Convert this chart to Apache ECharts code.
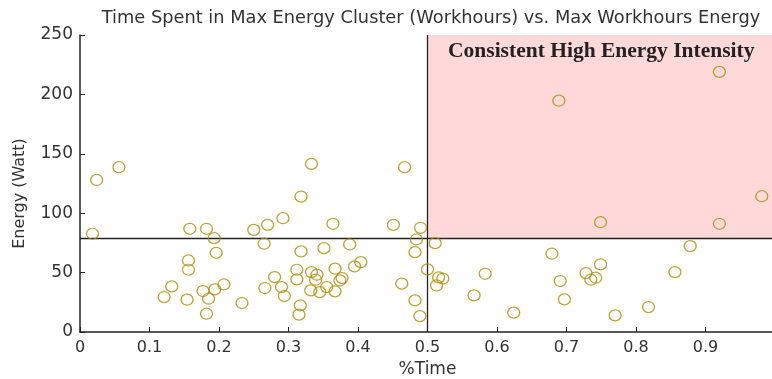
<!DOCTYPE html>
<html>
<head>
<meta charset="utf-8">
<script src="https://cdn.jsdelivr.net/npm/echarts@6/dist/echarts.min.js"></script>
<style>html,body{margin:0;padding:0;background:#fff;}#c{width:772px;height:379px;}</style>
</head>
<body>
<div id="c"></div>
<script>
const timeShare = [
  0.018, 0.024, 0.056, 0.333, 0.318,
  0.158, 0.182, 0.193, 0.196, 0.156, 0.156, 0.121, 0.132, 0.154, 0.177, 0.185, 0.194, 0.207, 0.182, 0.233,
  0.25, 0.27, 0.292, 0.265, 0.266, 0.28, 0.29, 0.294, 0.312, 0.312, 0.318, 0.317, 0.315,
  0.333, 0.341, 0.339, 0.332, 0.345, 0.351, 0.364, 0.367, 0.355, 0.367, 0.374, 0.377, 0.388, 0.395, 0.404,
  0.451, 0.467, 0.49, 0.484, 0.482, 0.511, 0.5, 0.463, 0.482, 0.489, 0.516, 0.522, 0.513,
  0.567, 0.583, 0.624, 0.679, 0.691, 0.697, 0.728, 0.735, 0.742, 0.749, 0.77, 0.818, 0.856, 0.878,
  0.689, 0.92, 0.981, 0.749, 0.92
];
const energyWatt = [
  82.7, 128, 138.7, 141.5, 114,
  86.9, 86.9, 79, 66.7, 60.2, 52.4, 29.4, 38.4, 27.2, 34.5, 28, 35.9, 40, 15.4, 24.4,
  86, 90.2, 95.8, 74.3, 37, 46.2, 37.8, 30.3, 52.4, 44.3, 67.8, 22.4, 14.6,
  50.4, 48.2, 44, 35, 33.6, 70.6, 91.1, 53.3, 37.8, 34.2, 43.4, 45.4, 73.7, 55.2, 58.8,
  90.2, 138.7, 87.7, 77.9, 67.2, 74.8, 52.7, 40.7, 26.6, 13.4, 46, 45, 39.2,
  30.8, 49, 16.3, 65.9, 42.9, 27.5, 49.6, 44, 45.7, 56.9, 14, 21, 50.4, 72.3,
  194.7, 219, 114.3, 92.4, 91.1
];
const xTicks = [0, 0.1, 0.2, 0.3, 0.4, 0.5, 0.6, 0.7, 0.8, 0.9];
const yTicks = [0, 50, 100, 150, 200, 250];
const timeThreshold = 0.5;
const energyThreshold = 79;
const titleText = 'Time Spent in Max Energy Cluster (Workhours) vs. Max Workhours Energy';
const regionLabel = 'Consistent High Energy Intensity';

const points = timeShare.map((t, i) => [t, energyWatt[i]]);

const chart = echarts.init(document.getElementById('c'), null, {renderer: 'canvas'});
chart.setOption({
  animation: false,
  backgroundColor: '#ffffff',
  title: {
    text: titleText,
    left: 426, top: 4, textAlign: 'center',
    textStyle: {fontFamily: 'DejaVu Sans', fontSize: 17.8, fontWeight: 'normal', color: '#333'}
  },
  grid: {left: 80, top: 35, width: 695, height: 297, containLabel: false, outerBoundsMode: 'none'},
  xAxis: {
    type: 'value', min: 0, max: 1, interval: 0.1,
    name: '%Time', nameLocation: 'middle', nameGap: 29,
    nameTextStyle: {fontFamily: 'DejaVu Sans', fontSize: 17, color: '#333'},
    axisLine: {show: true, lineStyle: {color: '#222', width: 1.5}},
    axisTick: {show: true, inside: true, length: 5, lineStyle: {color: '#222'}},
    axisLabel: {
      fontFamily: 'DejaVu Sans', fontSize: 16, color: '#333', margin: 8,
      formatter: v => (xTicks.some(t => Math.abs(t - v) < 1e-9) ? String(Math.round(v * 10) / 10) : '')
    },
    splitLine: {show: false}
  },
  yAxis: {
    type: 'value', min: 0, max: 250, interval: 50,
    name: 'Energy (Watt)', nameLocation: 'middle', nameGap: 52,
    nameTextStyle: {fontFamily: 'DejaVu Sans', fontSize: 16, color: '#333', padding: [0, 20, 0, 0]},
    axisLine: {show: true, lineStyle: {color: '#222', width: 1.5}},
    axisTick: {show: true, inside: true, length: 5, lineStyle: {color: '#222'}},
    axisLabel: {
      fontFamily: 'DejaVu Sans', fontSize: 17, color: '#333', margin: 7,
      formatter: v => (yTicks.includes(v) ? String(v) : '')
    },
    splitLine: {show: false}
  },
  series: [{
    type: 'scatter',
    data: points,
    symbol: 'path://M0,5a5,5 0 1,0 10,0a5,5 0 1,0 -10,0',
    symbolSize: [12, 11],
    symbolKeepAspect: false,
    itemStyle: {color: 'rgba(0,0,0,0)', borderColor: '#b08c08', borderWidth: 1.3},
    z: 5,
    markArea: {
      silent: true,
      itemStyle: {color: '#ffd9d9'},
      label: {
        show: true, position: 'insideTop', distance: 5,
        fontFamily: 'Liberation Serif', fontWeight: 'bold', fontSize: 21.5, color: '#222'
      },
      data: [[{name: regionLabel, coord: [timeThreshold, energyThreshold]}, {coord: [1, 250]}]]
    },
    markLine: {
      silent: true, symbol: 'none',
      lineStyle: {color: '#222', width: 1.3, type: 'solid'},
      label: {show: false},
      data: [{xAxis: timeThreshold}, {yAxis: energyThreshold}]
    }
  }]
});
</script>
</body>
</html>
